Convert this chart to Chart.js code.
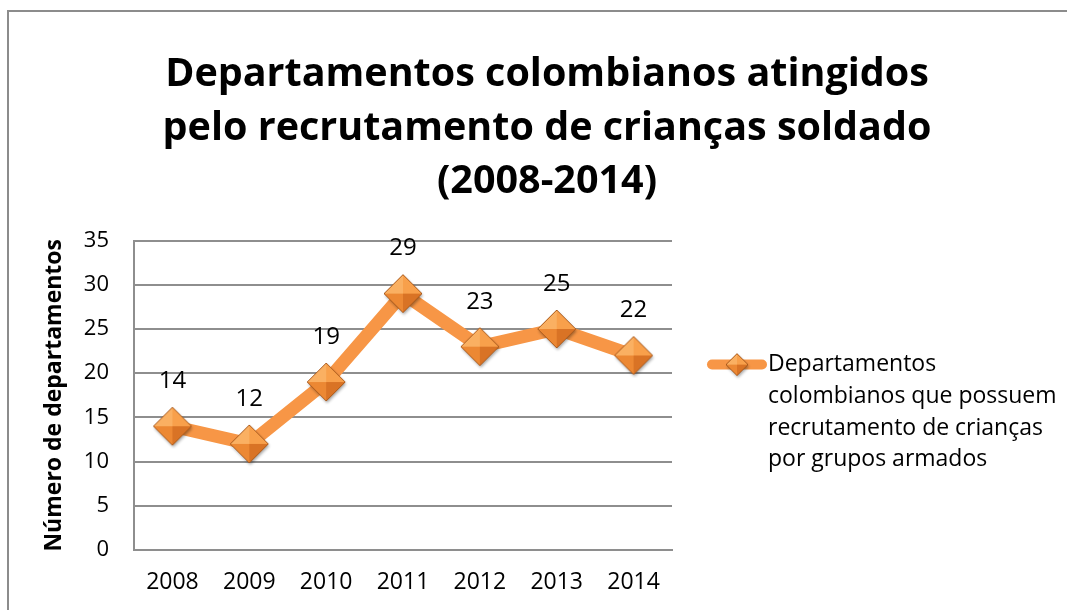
<!DOCTYPE html>
<html>
<head>
<meta charset="utf-8">
<script src="https://cdn.jsdelivr.net/npm/chart.js@4.4.0/dist/chart.umd.min.js"></script>
<style>
  html, body { margin: 0; padding: 0; background: #fff; }
  #wrap { width: 1067px; height: 610px; }
</style>
</head>
<body>
<div id="wrap"><canvas id="deptChart" width="1067" height="610"></canvas></div>
<script>
const years = ['2008', '2009', '2010', '2011', '2012', '2013', '2014'];
const departamentos = [14, 12, 19, 29, 23, 25, 22];
const yTicks = [0, 5, 10, 15, 20, 25, 30, 35];
const titleLines = ['Departamentos colombianos atingidos', 'pelo recrutamento de crianças soldado', '(2008-2014)'];
const yTitle = 'Número de departamentos';
const seriesLabel = ['Departamentos', 'colombianos que possuem', 'recrutamento de crianças', 'por grupos armados'];

const FONT = 'Open Sans';
const ORANGE = '#F79646';
const GRID = '#8e8e8e';

Chart.defaults.font.family = FONT;
Chart.defaults.color = '#000';

// faceted diamond like the excel marker
const makeDiamond = (r) => {
  const pad = 4;
  const size = 2 * r + pad * 2;
  const c = document.createElement('canvas');
  c.width = size;
  c.height = size;
  const g = c.getContext('2d');
  const m = size / 2;
  const top = [m, m - r], right = [m + r, m], bottom = [m, m + r], left = [m - r, m], mid = [m, m];
  const path = () => {
    g.beginPath();
    g.moveTo(...top); g.lineTo(...right); g.lineTo(...bottom); g.lineTo(...left);
    g.closePath();
  };
  const tri = (a, b, d, fill) => {
    g.beginPath();
    g.moveTo(...a); g.lineTo(...b); g.lineTo(...d);
    g.closePath();
    g.fillStyle = fill;
    g.fill();
  };
  g.save();
  g.shadowColor = 'rgba(0,0,0,0.35)';
  g.shadowBlur = 3;
  g.shadowOffsetX = 1;
  g.shadowOffsetY = 2;
  path();
  g.fillStyle = '#E8842F';
  g.fill();
  g.restore();
  tri(top, mid, left, '#FAB062');
  tri(top, right, mid, '#F8A04B');
  tri(left, mid, bottom, '#EC8833');
  tri(mid, right, bottom, '#D97325');
  path();
  g.strokeStyle = '#A9591B';
  g.lineWidth = 1;
  g.stroke();
  return c;
};

const bigDiamond = makeDiamond(19);
const smallDiamond = makeDiamond(11);

const sideLegend = {
  id: 'sideLegend',
  beforeInit(chart) {
    const box = {
      position: 'right',
      weight: 0,
      fullSize: false,
      options: {},
      left: 0, top: 0, right: 0, bottom: 0, width: 0, height: 0,
      isHorizontal() { return false; },
      update(maxWidth, maxHeight) {
        this.width = 395;
        this.height = maxHeight;
      },
      draw() {
        const ctx = chart.ctx;
        const y0 = chart.chartArea.top + 124;
        ctx.save();
        ctx.strokeStyle = ORANGE;
        ctx.lineWidth = 10;
        ctx.lineCap = 'round';
        ctx.beginPath();
        ctx.moveTo(this.left + 40, y0);
        ctx.lineTo(this.left + 90, y0);
        ctx.stroke();
        ctx.drawImage(smallDiamond, this.left + 65 - smallDiamond.width / 2, y0 - smallDiamond.height / 2);
        ctx.fillStyle = '#000';
        ctx.font = '23px "' + FONT + '"';
        ctx.textAlign = 'left';
        ctx.textBaseline = 'middle';
        seriesLabel.forEach((line, i) => {
          ctx.fillText(line, this.left + 96, y0 + i * 31.7);
        });
        ctx.restore();
      }
    };
    Chart.layouts.addBox(chart, box);
  }
};

const pointLabels = {
  id: 'pointLabels',
  afterDatasetsDraw(chart) {
    const ctx = chart.ctx;
    const meta = chart.getDatasetMeta(0);
    ctx.save();
    ctx.fillStyle = '#000';
    ctx.font = '24px "' + FONT + '"';
    ctx.textAlign = 'center';
    ctx.textBaseline = 'middle';
    meta.data.forEach((pt, i) => {
      ctx.fillText(String(departamentos[i]), pt.x, pt.y - 45);
    });
    ctx.restore();
  }
};

const outerBorder = {
  id: 'outerBorder',
  afterDraw(chart) {
    const ctx = chart.ctx;
    ctx.save();
    ctx.strokeStyle = '#8c8c8c';
    ctx.lineWidth = 2;
    ctx.strokeRect(8, 11, 1300, 900);
    ctx.restore();
  }
};

const ctx = document.querySelector('#deptChart').getContext('2d');
const deptChart = new Chart(ctx, {
  type: 'line',
  data: {
    labels: years,
    datasets: [{
      label: seriesLabel.join(' '),
      data: departamentos,
      borderColor: ORANGE,
      backgroundColor: ORANGE,
      borderWidth: 13,
      borderJoinStyle: 'round',
      borderCapStyle: 'round',
      pointStyle: bigDiamond,
      pointRadius: 19,
      pointHoverRadius: 19,
      tension: 0,
      clip: false
    }]
  },
  options: {
    responsive: false,
    animation: false,
    layout: { padding: { left: 27, right: 0, top: 0, bottom: 14 } },
    plugins: {
      legend: { display: false },
      tooltip: { enabled: false },
      title: {
        display: true,
        text: titleLines,
        color: '#000',
        font: { family: FONT, size: 39.5, weight: 'bold', lineHeight: 1.355 },
        padding: { top: 48, bottom: 32 }
      }
    },
    scales: {
      x: {
        offset: true,
        grid: { display: false, drawTicks: false },
        border: { display: true, color: GRID, width: 2 },
        ticks: { padding: 19, color: '#000', font: { size: 23 }, maxRotation: 0 },
        afterFit: (s) => { s.height = 46; }
      },
      y: {
        min: 0,
        max: 35,
        afterBuildTicks: (s) => { s.ticks = yTicks.map((v) => ({ value: v })); },
        grid: { color: GRID, lineWidth: 2, drawTicks: false },
        border: { display: true, color: GRID, width: 2 },
        ticks: { padding: 25, color: '#000', font: { size: 22 } },
        title: {
          display: true,
          text: yTitle,
          color: '#000',
          font: { size: 23, weight: 'bold' },
          padding: { top: 14, bottom: 0 }
        },
        afterFit: (s) => { s.width = 107; }
      }
    }
  },
  plugins: [sideLegend, pointLabels, outerBorder]
});
</script>
</body>
</html>
